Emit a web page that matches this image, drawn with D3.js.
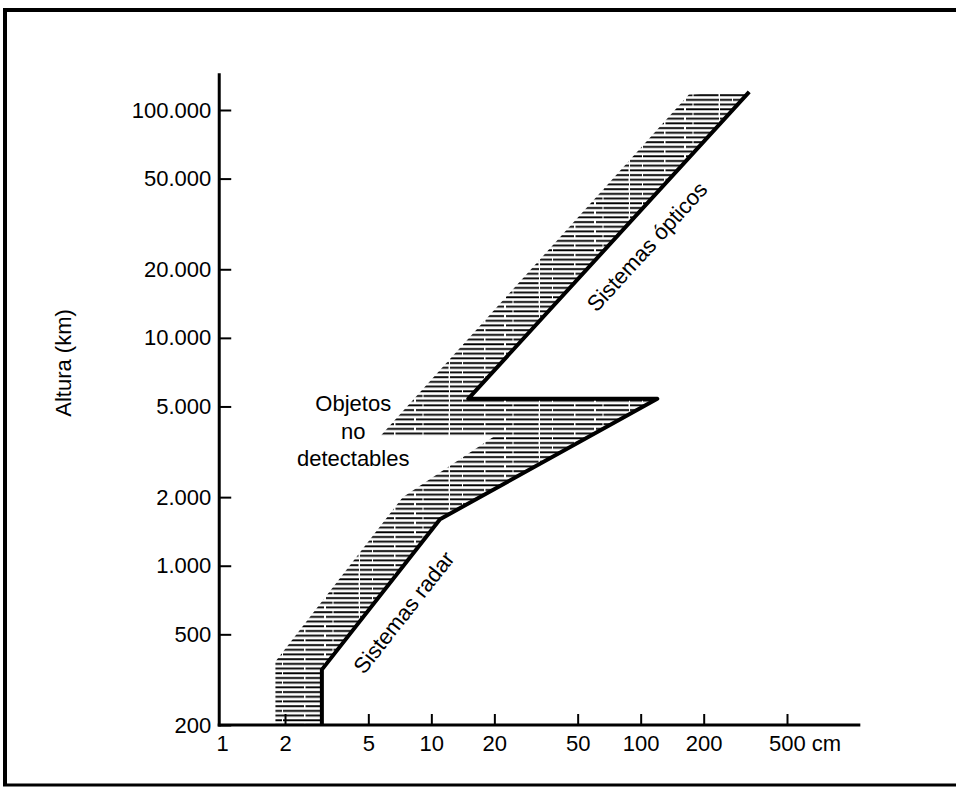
<!DOCTYPE html>
<html>
<head>
<meta charset="utf-8">
<script src="https://cdn.jsdelivr.net/npm/d3@7"></script>
<style>
  body { margin: 0; background: #fff; }
  text { font-family: "Liberation Sans", Arial, sans-serif; fill: #000; }
</style>
</head>
<body>
<div id="wrapper"></div>
<script>
// tamaño del objeto (cm) frente a altura (km)
const xTicks = [1, 2, 5, 10, 20, 50, 100, 200, 500];
const yTicks = [200, 500, 1000, 2000, 5000, 10000, 20000, 50000, 100000];

// límite de detección (línea gruesa), de abajo hacia arriba
const limitSize = [3, 3, 11, 120, 15, 330];
const limitAlt = [200, 350, 1600, 5400, 5400, 120000];

// borde izquierdo de la banda rayada
const bandSize = [1.8, 1.8, 7.3, 20, 5.7, 170];
const bandAlt = [200, 380, 2000, 3700, 3700, 117000];

const width = 956;
const height = 788;

const svg = d3.select("#wrapper")
    .append("svg")
        .attr("width", width)
        .attr("height", height);

const xScale = d3.scaleLog()
    .domain([1, 500])
    .range([222, 787]);

const yScale = d3.scaleLog()
    .domain([200, 100000])
    .range([725, 110]);

// extremos de los ejes dibujados
const xStart = 0.97, xEnd = 1120;
const yStart = 200, yEnd = 145000;

const x0 = xScale(xStart);
const y0 = yScale(yStart);

// marco
const frame = svg.append("g").attr("stroke", "#000").attr("fill", "none");
frame.append("line").attr("x1", 3).attr("x2", width).attr("y1", 10).attr("y2", 10).attr("stroke-width", 4);
frame.append("line").attr("x1", 5).attr("x2", 5).attr("y1", 8).attr("y2", 786).attr("stroke-width", 4);
frame.append("line").attr("x1", 3).attr("x2", width).attr("y1", 785).attr("y2", 785).attr("stroke-width", 3);

// trama de rayas horizontales
const pattern = svg.append("defs")
    .append("pattern")
        .attr("id", "hatch")
        .attr("patternUnits", "userSpaceOnUse")
        .attr("width", 90)
        .attr("height", 9.4);

pattern.append("line")
    .attr("x1", 0).attr("x2", 90).attr("y1", 1.2).attr("y2", 1.2)
    .attr("stroke", "#000").attr("stroke-width", 2)
    .attr("stroke-dasharray", "34 1.5 27 1 25 1.5");
pattern.append("line")
    .attr("x1", 0).attr("x2", 90).attr("y1", 5.9).attr("y2", 5.9)
    .attr("stroke", "#000").attr("stroke-width", 2)
    .attr("stroke-dasharray", "12 1 41 2 33 1");

const limitPoints = limitSize.map((s, i) => [xScale(s), yScale(limitAlt[i])]);
const bandPoints = bandSize.map((s, i) => [xScale(s), yScale(bandAlt[i])]);

// banda: borde izquierdo + línea límite al revés
svg.append("path")
    .attr("d", d3.line()([...bandPoints, ...limitPoints.slice().reverse()]) + "Z")
    .attr("fill", "url(#hatch)")
    .attr("stroke", "none");

svg.append("path")
    .attr("d", d3.line()(limitPoints))
    .attr("fill", "none")
    .attr("stroke", "#000")
    .attr("stroke-width", 4)
    .attr("stroke-linejoin", "round");

// ejes
const locale = d3.formatLocale({ decimal: ",", thousands: ".", grouping: [3], currency: ["", ""] });
const yFormat = locale.format(",");

const yAxisGenerator = d3.axisLeft(yScale)
    .tickValues(yTicks)
    .tickFormat(yFormat)
    .tickSizeInner(-12)
    .tickSizeOuter(0)
    .tickPadding(8);

const yAxis = svg.append("g")
    .attr("transform", `translate(${x0},0)`)
    .call(yAxisGenerator);

const xAxisGenerator = d3.axisBottom(xScale)
    .tickValues(xTicks)
    .tickFormat(d => d === 500 ? "500 cm" : d)
    .tickSizeInner(-11)
    .tickSizeOuter(0)
    .tickPadding(10);

const xAxis = svg.append("g")
    .attr("transform", `translate(0,${y0})`)
    .call(xAxisGenerator);

[xAxis, yAxis].forEach(ax => {
    ax.select(".domain").remove();
    ax.selectAll(".tick line").attr("stroke", "#000").attr("stroke-width", 2);
    ax.selectAll(".tick text")
        .attr("fill", "#000")
        .style("font-size", "22px")
        .style("font-family", "'Liberation Sans', Arial, sans-serif");
});

// el 1 no lleva marca; "500" centrado en su marca y "cm" detrás
xAxis.selectAll(".tick").filter(d => d === 1).select("line").remove();
xAxis.selectAll(".tick").filter(d => d === 500).select("text")
    .attr("text-anchor", "start")
    .attr("x", -18.5);

svg.append("line")
    .attr("x1", x0).attr("x2", x0)
    .attr("y1", y0 + 1.5).attr("y2", yScale(yEnd))
    .attr("stroke", "#000").attr("stroke-width", 3);

svg.append("line")
    .attr("x1", x0 - 1.5).attr("x2", xScale(xEnd))
    .attr("y1", y0).attr("y2", y0)
    .attr("stroke", "#000").attr("stroke-width", 3);

svg.append("text")
    .attr("transform", "translate(63,363) rotate(-90)")
    .attr("text-anchor", "middle")
    .attr("dy", "0.35em")
    .style("font-size", "22px")
    .text("Altura (km)");

// rótulos a lo largo de la línea límite
function alongLabel(i, t, offset, label) {
    const [ax, ay] = limitPoints[i];
    const [bx, by] = limitPoints[i + 1];
    const dx = bx - ax, dy = by - ay;
    const len = Math.hypot(dx, dy);
    const ux = dx / len, uy = dy / len;
    const cx = ax + dx * t - uy * offset;
    const cy = ay + dy * t + ux * offset;
    const angle = Math.atan2(dy, dx) * 180 / Math.PI;
    svg.append("text")
        .attr("transform", `translate(${cx},${cy}) rotate(${angle})`)
        .attr("text-anchor", "middle")
        .attr("dy", "0.35em")
        .style("font-size", "22px")
        .text(label);
}

alongLabel(4, 0.56, 29, "Sistemas ópticos");
alongLabel(1, 0.5, 29, "Sistemas radar");

const [tipX, tipY] = bandPoints[4];
svg.append("text")
    .attr("text-anchor", "middle")
    .style("font-size", "22px")
    .selectAll("tspan")
    .data(["Objetos", "no", "detectables"])
    .join("tspan")
        .attr("x", tipX - 27)
        .attr("y", (d, i) => tipY - 25 + i * 27.5)
        .text(d => d);
</script>
</body>
</html>
